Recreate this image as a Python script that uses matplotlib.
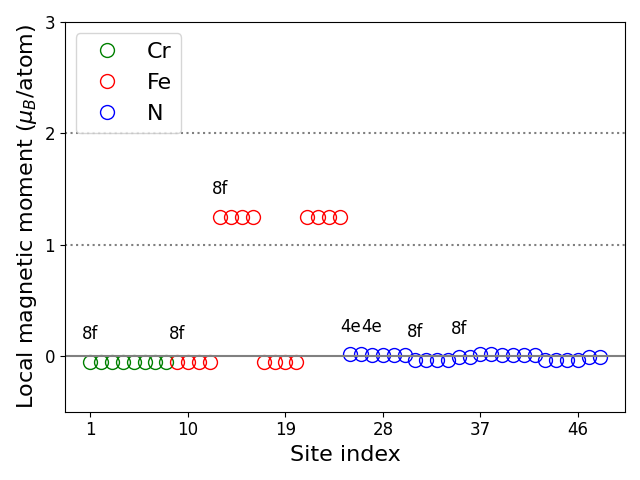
import matplotlib
matplotlib.use("Agg")
import matplotlib.pyplot as plt
import numpy as np

cr_sites = list(range(1, 9))
cr_moments = [-0.055] * 8
fe_sites = list(range(9, 25))
fe_moments = [-0.055, -0.055, -0.055, -0.055,
              1.25, 1.25, 1.25, 1.25,
              -0.055, -0.055, -0.055, -0.055,
              1.25, 1.25, 1.25, 1.25]
n_sites = list(range(25, 49))
n_moments = [0.015, 0.015, 0.01, 0.01, 0.01, 0.01,
             -0.035, -0.035, -0.035, -0.035, -0.01, -0.01,
             0.02, 0.02, 0.01, 0.01, 0.01, 0.01,
             -0.035, -0.035, -0.035, -0.035, -0.01, -0.01]
label_sites = [1, 9, 13, 25, 27, 31, 35]
label_texts = ["8f", "8f", "8f", "4e", "4e", "8f", "8f"]
xticks = [1, 10, 19, 28, 37, 46]

all_sites = cr_sites + fe_sites + n_sites
all_moments = cr_moments + fe_moments + n_moments

fig, ax = plt.subplots(figsize=(6.4, 4.8), dpi=100)
ax.plot(cr_sites, cr_moments, 'o', mfc='none', mec='green', ms=10, label='Cr')
ax.plot(fe_sites, fe_moments, 'o', mfc='none', mec='red', ms=10, label='Fe')
ax.plot(n_sites, n_moments, 'o', mfc='none', mec='blue', ms=10, label='N')
ax.axhline(0, color='gray', lw=1.5)
ax.axhline(1, color='gray', ls=':', lw=1.5)
ax.axhline(2, color='gray', ls=':', lw=1.5)

for s, t in zip(label_sites, label_texts):
    v = all_moments[all_sites.index(s)]
    ax.text(s, v + 0.25, t, ha='center', va='center', fontsize=12)

ax.set_ylim(-0.5, 3)
ax.set_xticks(xticks)
ax.set_yticks([0, 1, 2, 3])
ax.tick_params(labelsize=12)
ax.set_xlabel('Site index', fontsize=16)
ax.set_ylabel(r'Local magnetic moment ($\mu_B$/atom)', fontsize=16)
ax.legend(loc='upper left', fontsize=16)
fig.tight_layout()
fig.savefig('out.png')
